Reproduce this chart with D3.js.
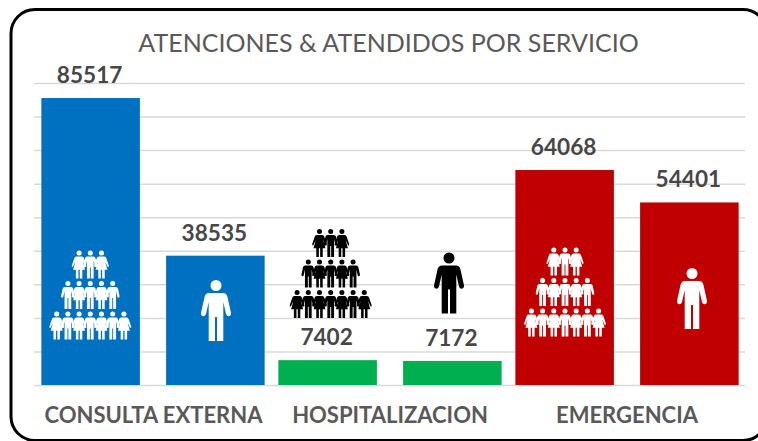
<!DOCTYPE html>
<meta charset="utf-8">
<style>
body { margin: 0; background: #fff; }
text { font-family: Lato, "Open Sans", sans-serif; }
</style>
<body>
<script src="https://d3js.org/d3.v7.min.js"></script>
<script>

let groups = ['CONSULTA EXTERNA', 'HOSPITALIZACION', 'EMERGENCIA'];
let seriesNames = ['atenciones', 'atendidos'];
let atenciones = [85517, 7402, 64068];
let atendidos = [38535, 7172, 54401];
let barColors = ['#0070c0', '#00b050', '#c00000'];
let iconColors = ['#fff', '#000', '#fff'];
let ticks = [0, 10000, 20000, 30000, 40000, 50000, 60000, 70000, 80000, 90000];

let width = 758, height = 441;

let svg = d3.select('body').append('svg')
	.attr('width', width)
	.attr('height', height)
	.style('display', 'block');

// marco redondeado
svg.append('rect')
	.attr('x', 11).attr('y', 9.5)
	.attr('width', 756).attr('height', 431)
	.attr('rx', 24)
	.attr('fill', '#fff')
	.attr('stroke', '#000')
	.attr('stroke-width', 3);

let x0 = d3.scaleBand().domain(groups).range([34.5, 745.5]);
let x1 = d3.scaleBand().domain(seriesNames).range([0, x0.bandwidth()])
	.paddingInner(0.21).paddingOuter(0.055);
let y = d3.scaleLinear().domain([0, 90000]).range([385, 83]);

let grid = d3.axisLeft(y).tickValues(ticks).tickSize(-(745 - 34)).tickFormat('');
svg.append('g')
	.attr('transform', 'translate(34,0)')
	.call(grid)
	.call(g => g.select('.domain').remove())
	.call(g => g.selectAll('line').attr('stroke', '#d9d9d9').attr('stroke-width', 1.5));

svg.append('text')
	.attr('x', 388.5).attr('y', 52)
	.attr('text-anchor', 'middle')
	.attr('font-size', 25)
	.attr('fill', '#595959')
	.text('ATENCIONES & ATENDIDOS POR SERVICIO');

let rows = [];
groups.forEach((g, i) => {
	rows.push({ group: g, serie: 'atenciones', value: atenciones[i], color: barColors[i] });
	rows.push({ group: g, serie: 'atendidos', value: atendidos[i], color: barColors[i] });
});

svg.selectAll('.bar').data(rows).enter().append('rect')
	.attr('class', 'bar')
	.attr('x', d => x0(d.group) + x1(d.serie))
	.attr('y', d => y(d.value))
	.attr('width', x1.bandwidth())
	.attr('height', d => y(0) - y(d.value))
	.attr('fill', d => d.color);

svg.selectAll('.val').data(rows).enter().append('text')
	.attr('class', 'val')
	.attr('x', d => x0(d.group) + x1(d.serie) + x1.bandwidth() / 2 - 1)
	.attr('y', d => y(d.value) - 15)
	.attr('text-anchor', 'middle')
	.attr('font-size', 22.6)
	.attr('font-weight', 700)
	.attr('fill', '#474747')
	.text(d => d.value);

svg.selectAll('.cat').data(groups).enter().append('text')
	.attr('class', 'cat')
	.attr('x', (d, i) => [153.5, 390, 627][i])
	.attr('y', 423)
	.attr('text-anchor', 'middle')
	.attr('font-size', 22)
	.attr('font-weight', 700)
	.attr('fill', '#595959')
	.text(d => d);

// figuras: hombre y mujer, caja de 30 de ancho y 61 de alto, centro en x=0
function manPath() {
	let p = d3.path();
	p.moveTo(5.5, 5.5); p.arc(0, 5.5, 5.5, 0, Math.PI * 2);
	p.moveTo(-7, 13);
	p.lineTo(7, 13);
	p.quadraticCurveTo(10.5, 13, 11.5, 17);
	p.lineTo(15, 33);
	p.quadraticCurveTo(15.2, 36, 12.6, 36.3);
	p.quadraticCurveTo(10.7, 36.3, 10, 34);
	p.lineTo(7.3, 22);
	p.lineTo(7.3, 61);
	p.lineTo(1, 61);
	p.lineTo(1, 37);
	p.lineTo(-1, 37);
	p.lineTo(-1, 61);
	p.lineTo(-7.3, 61);
	p.lineTo(-7.3, 22);
	p.lineTo(-10, 34);
	p.quadraticCurveTo(-10.7, 36.3, -12.6, 36.3);
	p.quadraticCurveTo(-15.2, 36, -15, 33);
	p.lineTo(-11.5, 17);
	p.quadraticCurveTo(-10.5, 13, -7, 13);
	p.closePath();
	return p.toString();
}
function womanPath() {
	let p = d3.path();
	p.moveTo(5.5, 5.5); p.arc(0, 5.5, 5.5, 0, Math.PI * 2);
	p.moveTo(-6, 13);
	p.lineTo(6, 13);
	p.quadraticCurveTo(9.5, 13, 10.5, 17);
	p.lineTo(16, 33);
	p.quadraticCurveTo(16.2, 36, 13.6, 36);
	p.lineTo(8, 24);
	p.lineTo(13, 42);
	p.lineTo(7, 42);
	p.lineTo(7, 61);
	p.lineTo(1.4, 61);
	p.lineTo(1.4, 42);
	p.lineTo(-1.4, 42);
	p.lineTo(-1.4, 61);
	p.lineTo(-7, 61);
	p.lineTo(-7, 42);
	p.lineTo(-13, 42);
	p.lineTo(-8, 24);
	p.lineTo(-13.6, 36);
	p.quadraticCurveTo(-16.2, 36, -16, 33);
	p.lineTo(-10.5, 17);
	p.quadraticCurveTo(-9.5, 13, -6, 13);
	p.closePath();
	return p.toString();
}
let man = manPath(), woman = womanPath();

function person(g, path, x, top, k, fill) {
	g.append('path')
		.attr('d', path)
		.attr('transform', 'translate(' + x + ',' + top + ') scale(' + k + ')')
		.attr('fill', fill);
}

// piramide de 3, 5 y 7 personas
function pyramid(cx, top, fill) {
	let g = svg.append('g');
	[3, 5, 7].forEach((n, r) => {
		for (let i = 0; i < n; i++) {
			let isWoman = (n === 5) ? i % 2 === 1 : i % 2 === 0;
			person(g, isWoman ? woman : man, cx + (i - (n - 1) / 2) * 11.2, top + r * 30.5, 0.46, fill);
		}
	});
}

pyramid(90.3, 250.5, iconColors[0]);
pyramid(330.7, 229, iconColors[1]);
pyramid(565, 247.5, iconColors[2]);
person(svg, man, 216, 280, 1, iconColors[0]);
person(svg, man, 449, 252.5, 1, iconColors[1]);
person(svg, man, 692, 268, 1, iconColors[2]);

</script>
</body>
